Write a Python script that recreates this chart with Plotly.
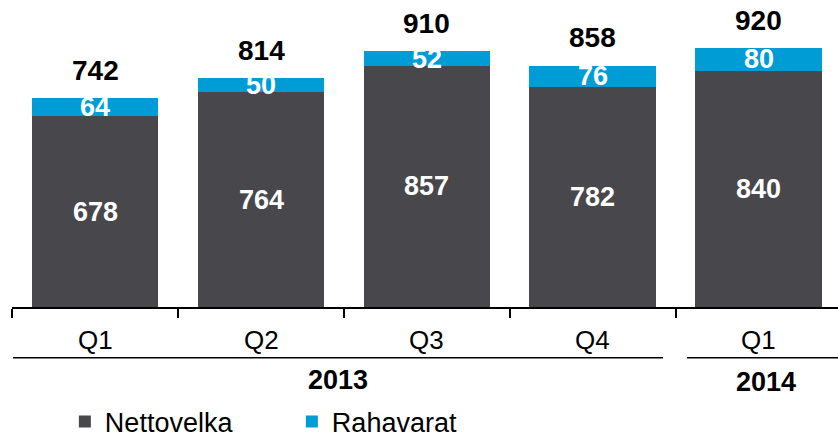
import plotly.graph_objects as go

categories = ["Q1", "Q2", "Q3", "Q4", "Q1"]
years = ["2013", "2013", "2013", "2013", "2014"]
nettovelka = [678, 764, 857, 782, 840]
rahavarat = [64, 50, 52, 76, 80]
totals = [742, 814, 910, 858, 920]
series_names = ["Nettovelka", "Rahavarat"]

DARK = "#48474c"
BLUE = "#009cd6"
FONT = "Liberation Sans, Arial, sans-serif"

PLOT_H = 307.0

x = list(range(len(categories)))

fig = go.Figure()
fig.add_trace(go.Bar(x=x, y=nettovelka, name=series_names[0], marker=dict(color=DARK, line=dict(width=0)),
                     width=0.765, hoverinfo="skip"))
fig.add_trace(go.Bar(x=x, y=rahavarat, name=series_names[1], marker=dict(color=BLUE, line=dict(width=0)),
                     width=0.765, hoverinfo="skip"))

ann = []
for i in x:
    ann.append(dict(x=i, y=nettovelka[i] / 2, xref="x", yref="y", text="<b>%d</b>" % nettovelka[i],
                    showarrow=False, font=dict(family=FONT, size=27, color="white"), yanchor="middle"))
    ann.append(dict(x=i, y=nettovelka[i] + rahavarat[i] / 2, xref="x", yref="y", text="<b>%d</b>" % rahavarat[i],
                    showarrow=False, font=dict(family=FONT, size=27, color="white"), yanchor="middle"))
    ann.append(dict(x=i, y=nettovelka[i] + rahavarat[i], xref="x", yref="y", text="<b>%d</b>" % totals[i],
                    showarrow=False, font=dict(family=FONT, size=28, color="black"), yanchor="middle", yshift=28))
    ann.append(dict(x=i, y=-33 / PLOT_H, xref="x", yref="paper", text=categories[i], showarrow=False,
                    font=dict(family=FONT, size=26, color="black"), yanchor="middle"))

groups = [("2013", -0.494, 3.422, -73 / PLOT_H), ("2014", 3.566, 4.518, -75 / PLOT_H)]
shapes = []
for label, x0, x1, ly in groups:
    shapes.append(dict(type="line", xref="x", yref="paper", x0=x0, x1=x1, y0=-50.7 / PLOT_H, y1=-50.7 / PLOT_H,
                       line=dict(color="black", width=1.5)))
    ann.append(dict(x=(x0 + x1) / 2, y=ly, xref="x", yref="paper", text="<b>%s</b>" % label, showarrow=False,
                    font=dict(family=FONT, size=27, color="black"), yanchor="middle"))

fig.update_layout(
    width=838, height=438,
    margin=dict(l=12, r=0, t=0, b=131, autoexpand=False),
    barmode="stack",
    plot_bgcolor="white", paper_bgcolor="white",
    showlegend=True,
    legend=dict(orientation="h", x=0.064, y=-115 / PLOT_H, xanchor="left", yanchor="middle",
                font=dict(family=FONT, size=27, color="black"), entrywidth=182, traceorder="normal",
                itemclick=False, itemdoubleclick=False),
    xaxis=dict(range=[-0.5, 4.476], tickmode="array", tickvals=[-0.5, 0.5, 1.5, 2.5, 3.5],
               showticklabels=False, ticks="outside", ticklen=9, tickwidth=2, tickcolor="black",
               showline=True, linecolor="black", linewidth=2, showgrid=False, zeroline=False, fixedrange=True),
    yaxis=dict(range=[0, PLOT_H / 0.28127], visible=False, showgrid=False, zeroline=False, fixedrange=True),
    annotations=ann,
    shapes=shapes,
    font=dict(family=FONT),
)

fig.write_html("out.html", config={"displayModeBar": False},
               post_script="document.body.style.margin='0px';")
